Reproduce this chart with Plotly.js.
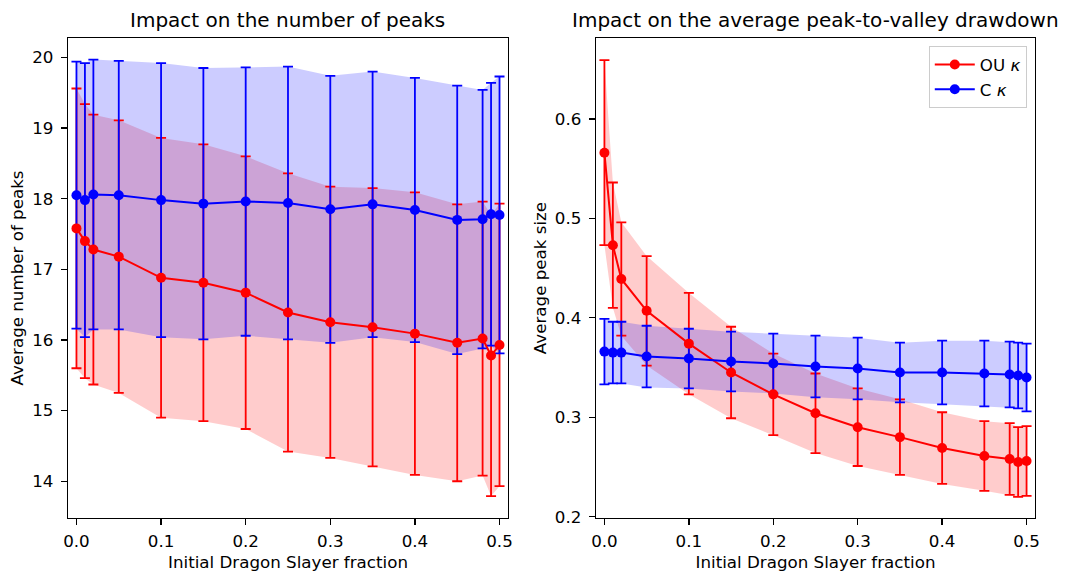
<!DOCTYPE html>
<html>
<head>
<meta charset="utf-8">
<script src="https://cdn.plot.ly/plotly-3.0.1.min.js"></script>
<style>
html, body { margin: 0; padding: 0; background: #ffffff; }
#chart { width: 1078px; height: 575px; }
</style>
</head>
<body>
<div id="chart"></div>
<script>
// Initial Dragon Slayer fraction
var fractions = [0, 0.01, 0.02, 0.05, 0.1, 0.15, 0.2, 0.25, 0.3, 0.35, 0.4, 0.45, 0.48, 0.49, 0.5];

// Left panel: average number of peaks
var peaksOU    = [17.58, 17.40, 17.28, 17.18, 16.88, 16.81, 16.67, 16.39, 16.25, 16.18, 16.09, 15.96, 16.02, 15.78, 15.93];
var peaksOUStd = [1.98, 1.94, 1.91, 1.93, 1.98, 1.96, 1.93, 1.97, 1.92, 1.97, 2.00, 1.96, 1.94, 1.99, 2.00];
var peaksC     = [18.05, 17.98, 18.06, 18.05, 17.98, 17.93, 17.96, 17.94, 17.85, 17.92, 17.84, 17.70, 17.71, 17.78, 17.77];
var peaksCStd  = [1.89, 1.94, 1.91, 1.90, 1.94, 1.92, 1.90, 1.93, 1.89, 1.88, 1.87, 1.90, 1.83, 1.86, 1.96];

// Right panel: average peak size
var sizeOU    = [0.566, 0.473, 0.439, 0.407, 0.374, 0.345, 0.323, 0.304, 0.290, 0.280, 0.269, 0.261, 0.258, 0.255, 0.256];
var sizeOUStd = [0.093, 0.063, 0.057, 0.055, 0.051, 0.046, 0.041, 0.040, 0.039, 0.038, 0.036, 0.035, 0.036, 0.035, 0.035];
var sizeC     = [0.366, 0.365, 0.365, 0.361, 0.359, 0.356, 0.354, 0.351, 0.349, 0.345, 0.345, 0.344, 0.343, 0.342, 0.340];
var sizeCStd  = [0.033, 0.031, 0.031, 0.031, 0.030, 0.030, 0.030, 0.031, 0.031, 0.030, 0.032, 0.033, 0.033, 0.033, 0.034];

var seriesNames = ['OU <i>κ</i>', 'C <i>κ</i>'];
var titles = ['Impact on the number of peaks', 'Impact on the average peak-to-valley drawdown'];
var xLabel = 'Initial Dragon Slayer fraction';
var yLabels = ['Average number of peaks', 'Average peak size'];

var RED = '#ff0000', BLUE = '#0000ff';
var FONT = 'DejaVu Sans, sans-serif';

function add(a, b, s) { return a.map(function (v, i) { return v + s * b[i]; }); }

function band(mean, std, color, xa, ya) {
  return [
    { x: fractions, y: add(mean, std, -1), xaxis: xa, yaxis: ya, mode: 'lines',
      line: { width: 0, color: color }, showlegend: false, hoverinfo: 'skip' },
    { x: fractions, y: add(mean, std, 1), xaxis: xa, yaxis: ya, mode: 'lines',
      line: { width: 0, color: color }, fill: 'tonexty', fillcolor: color,
      showlegend: false, hoverinfo: 'skip' }
  ];
}
function errs(mean, std, color, xa, ya) {
  return { x: fractions, y: mean, xaxis: xa, yaxis: ya, mode: 'markers',
    marker: { size: 1, opacity: 0, color: color }, showlegend: false,
    error_y: { type: 'data', array: std, visible: true, color: color, thickness: 1.8, width: 5 } };
}
function main(mean, color, xa, ya, name, legend) {
  return { x: fractions, y: mean, xaxis: xa, yaxis: ya, mode: 'lines+markers', name: name,
    line: { color: color, width: 2 }, marker: { color: color, size: 10 },
    showlegend: legend, legendgroup: name };
}

var traces = []
  .concat(band(peaksOU, peaksOUStd, 'rgba(255,0,0,0.2)', 'x', 'y'))
  .concat(band(peaksC, peaksCStd, 'rgba(0,0,255,0.2)', 'x', 'y'))
  .concat(band(sizeOU, sizeOUStd, 'rgba(255,0,0,0.2)', 'x2', 'y2'))
  .concat(band(sizeC, sizeCStd, 'rgba(0,0,255,0.2)', 'x2', 'y2'))
  .concat([
    errs(peaksOU, peaksOUStd, RED, 'x', 'y'),
    errs(peaksC, peaksCStd, BLUE, 'x', 'y'),
    errs(sizeOU, sizeOUStd, RED, 'x2', 'y2'),
    errs(sizeC, sizeCStd, BLUE, 'x2', 'y2'),
    main(peaksOU, RED, 'x', 'y', seriesNames[0], false),
    main(peaksC, BLUE, 'x', 'y', seriesNames[1], false),
    main(sizeOU, RED, 'x2', 'y2', seriesNames[0], true),
    main(sizeC, BLUE, 'x2', 'y2', seriesNames[1], true)
  ]);

function xax(domain) {
  return { domain: domain, range: [-0.01, 0.51], tickvals: [0, 0.1, 0.2, 0.3, 0.4, 0.5],
    tickformat: '.1f', ticks: 'outside', ticklen: 6, tickwidth: 1.3, tickcolor: '#000',
    showline: true, mirror: true, linecolor: '#000', linewidth: 1.3, showgrid: false, zeroline: false,
    tickfont: { size: 16.7, color: '#000' }, ticklabelstandoff: 2,
    title: { text: xLabel, font: { size: 16.7, color: '#000' }, standoff: 6 } };
}
function yax(range, ticks, label, anchor, standoff) {
  return { range: range, tickvals: ticks, anchor: anchor, ticks: 'outside', ticklen: 6, tickwidth: 1.3,
    tickcolor: '#000', showline: true, mirror: true, linecolor: '#000', linewidth: 1.3,
    showgrid: false, zeroline: false, tickfont: { size: 16.7, color: '#000' }, ticklabelstandoff: 4,
    title: { text: label, font: { size: 16.7, color: '#000' }, standoff: standoff } };
}

var layout = {
  width: 1078, height: 575,
  margin: { l: 68, r: 43, t: 38, b: 57, autoexpand: false },
  paper_bgcolor: '#fff', plot_bgcolor: '#fff',
  font: { family: FONT, color: '#000' },
  showlegend: true,
  xaxis: xax([0, 0.455]),
  xaxis2: Object.assign(xax([0.546, 1]), { anchor: 'y2' }),
  yaxis: yax([13.48, 20.275], [14, 15, 16, 17, 18, 19, 20], yLabels[0], 'x', 4),
  yaxis2: yax([0.1987, 0.6813], [0.2, 0.3, 0.4, 0.5, 0.6], yLabels[1], 'x2', 4),
  legend: { x: 0.9915, xanchor: 'right', y: 0.983, yanchor: 'top', xref: 'paper', yref: 'paper',
    bgcolor: 'rgba(255,255,255,0.8)', bordercolor: '#cccccc', borderwidth: 1,
    font: { size: 16.7, color: '#000' }, tracegroupgap: 0, itemwidth: 40 },
  annotations: [
    { text: titles[0], xref: 'paper', yref: 'paper', x: 0.2275, y: 1, xanchor: 'center', yanchor: 'bottom',
      yshift: 4, showarrow: false, font: { size: 20, color: '#000' } },
    { text: titles[1], xref: 'paper', yref: 'paper', x: 0.773, y: 1, xanchor: 'center', yanchor: 'bottom',
      yshift: 4, showarrow: false, font: { size: 20, color: '#000' } }
  ]
};

Plotly.newPlot('chart', traces, layout, { displayModeBar: false, staticPlot: true });
</script>
</body>
</html>
